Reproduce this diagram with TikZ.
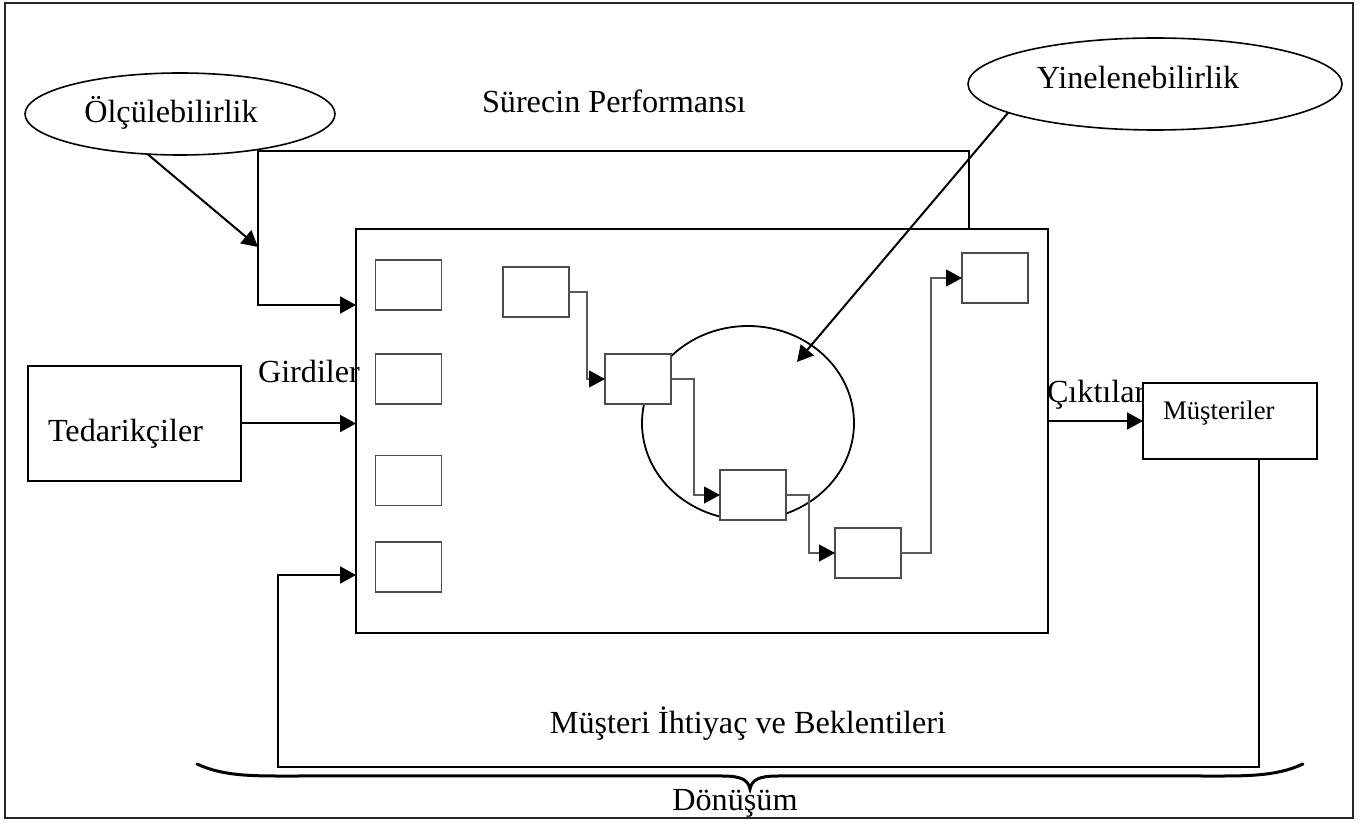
\documentclass[tikz,border=0pt]{standalone}
\usepackage{fontspec}
\setmainfont{Liberation Serif}
\usetikzlibrary{arrows.meta,shapes.geometric}
\begin{document}
\begin{tikzpicture}[x=0.5pt,y=-0.5pt,
  every node/.style={inner sep=0pt, outer sep=0pt},
  txt/.style={font=\fontsize{16.1}{19}\selectfont},
  smalltxt/.style={font=\fontsize{13.4}{16}\selectfont},
  bigbox/.style={draw, line width=1pt, fill=white, rectangle},
  cell/.style={draw=black!70, line width=0.55pt, fill=white, rectangle, minimum width=33pt, minimum height=25pt},
  oval/.style={draw, ellipse, line width=0.8pt},
  arr/.style={line width=1pt, -{Triangle[length=8pt,width=8.5pt]}},
  flowarr/.style={draw=black!65, line width=0.55pt, -{Triangle[length=8pt,width=8.5pt,color=black]}},
]
\useasboundingbox (0,0) rectangle (1362,823);
% outer frame
\draw[line width=0.9pt, black!85] (5,3) rectangle (1353,818);

% coordinates
\coordinate (pL) at (258,151);
\coordinate (pR) at (969,151);
\coordinate (pIn) at (258,305);
\coordinate (oltip) at (258,247);
\coordinate (yintip) at (797,362);
\coordinate (fbR) at (1259,767);
\coordinate (fbL) at (278,767);
\coordinate (fbT) at (278,575);

% ellipses
\node[oval, minimum width=155pt, minimum height=41pt] (olc) at (180,114) {};
\node[txt, anchor=base] (olct) at (171,123) {Ölçülebilirlik};
\node[oval, minimum width=187pt, minimum height=46pt] (yin) at (1155,84) {};
\node[txt, anchor=base] (yint) at (1138,89) {Yinelenebilirlik};

% titles
\node[txt, anchor=base west] (perf) at (482,113) {Sürecin Performansı};
\node[txt, anchor=base west] (cikt) at (1047,403) {Çıktılar};
\node[txt, anchor=base] (ihti) at (748,734) {Müşteri İhtiyaç ve Beklentileri};
\node[txt, anchor=base] (donu) at (735,811) {Dönüşüm};

% main box
\node[bigbox, minimum width=346pt, minimum height=202pt] (main) at (702,431) {};
\node[txt, anchor=base west] (gird) at (258,383) {Girdiler};

% performance loop
\draw[arr] (main.north -| pR) -- (pR) -- (pL) -- (pIn) -- (pIn -| main.west);

% center loop ellipse
\node[oval, line width=0.9pt, minimum width=106pt, minimum height=97pt] (loop) at (748,423) {};

% left cells
\node[cell] (c1) at (408.5,285) {};
\node[cell] (c2) at (408.5,379) {};
\node[cell] (c3) at (408.5,480.5) {};
\node[cell] (c4) at (408.5,567) {};

% flow boxes
\node[cell] (b1) at (536,292) {};
\node[cell] (b2) at (638,379) {};
\node[cell] (b3) at (753,495) {};
\node[cell] (b4) at (868,553) {};
\node[cell] (b5) at (995,278) {};

\draw[flowarr] (b1.east) -- ++(18,0) |- (b2.west);
\draw[flowarr] (b2.east) -- ++(23,0) |- (b3.west);
\draw[flowarr] (b3.east) -- ++(23,0) |- (b4.west);
\draw[flowarr] (b4.east) -- ++(30,0) |- (b5.west);

% Tedarikciler
\node[bigbox, minimum width=106.5pt, minimum height=57.5pt] (ted) at (134.5,423.5) {};
\node[txt, anchor=base west] (tedt) at (48,442) {Tedarikçiler};
\draw[arr] (ted.east) -- (ted.east -| main.west);

% Musteriler
\node[bigbox, minimum width=87pt, minimum height=38pt] (mus) at (1230,421) {};
\node[smalltxt, anchor=base west] (must) at (1163,420) {Müşteriler};
\draw[arr] (main.east |- mus.west) -- (mus.west);

% feedback loop
\draw[arr] (mus.south -| fbR) -- (fbR) -- (fbL) -- (fbT) -- (fbT -| main.west);

% measurement / repeatability arrows
\draw[arr] (olc.231) -- (oltip);
\draw[arr] (yin.191) -- (yintip);

% brace
\draw[line width=1.5pt, line cap=round]
  (197,764) .. controls (225,777) and (255,776) .. (300,776)
  -- (722,776) .. controls (742,776) and (748,780) .. (750,789)
  .. controls (752,780) and (758,776) .. (778,776)
  -- (1200,776) .. controls (1245,776) and (1275,777) .. (1303,764);
\end{tikzpicture}
\end{document}
